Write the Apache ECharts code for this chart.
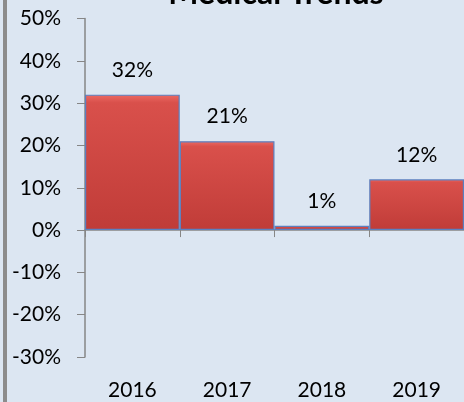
<!DOCTYPE html>
<html>
<head>
<meta charset="utf-8">
<script src="https://cdn.jsdelivr.net/npm/echarts@6/dist/echarts.min.js"></script>
<style>
  html, body { margin: 0; padding: 0; background: #dce6f2; }
  #chart { width: 464px; height: 402px; }
</style>
</head>
<body>
<div id="chart"></div>
<script>
// values, in percent
const years = ['2016', '2017', '2018', '2019'];
const trend = [32, 21, 1, 12];

const chart = echarts.init(document.getElementById('chart'));

const barFill = new echarts.graphic.LinearGradient(0, 0, 0, 1, [
  { offset: 0, color: '#ec6a64' },
  { offset: 0.06, color: '#d9504b' },
  { offset: 1, color: '#c03c38' },
]);

chart.setOption({
  backgroundColor: '#dce6f2',
  animation: false,
  title: {
    text: 'Medical Trends',
    left: 271,
    top: -27,
    textAlign: 'center',
    textStyle: { fontFamily: 'Lato', fontWeight: 'bold', fontSize: 32, color: '#000' },
  },
  graphic: [
    { type: 'rect', left: 3, top: 0, shape: { width: 4, height: 402 }, style: { fill: '#8c8c8c' } },
  ],
  grid: { left: 85, right: -4, top: 18.5, bottom: 45 },
  xAxis: [
    {
      type: 'category',
      data: years,
      position: 'bottom',
      axisLine: { show: false, onZero: false },
      axisTick: { show: false },
      axisLabel: { fontFamily: 'Lato', fontSize: 21, color: '#000', margin: 23 },
    },
    {
      type: 'category',
      data: years,
      position: 'top',
      axisLine: { show: true, onZero: true, lineStyle: { color: '#868686', width: 1.5 } },
      axisTick: { show: true, inside: true, length: 7, lineStyle: { color: '#868686' } },
      axisLabel: { show: false },
    },
  ],
  yAxis: {
    type: 'value',
    min: -30,
    max: 50,
    interval: 10,
    splitLine: { show: false },
    axisLine: { show: true, lineStyle: { color: '#868686', width: 1.5 } },
    axisTick: { show: true, length: 8, lineStyle: { color: '#868686' } },
    axisLabel: {
      fontFamily: 'Lato', fontSize: 21, color: '#000', margin: 24,
      formatter: v => v + '%',
    },
  },
  series: [
    {
      type: 'bar',
      xAxisIndex: 0,
      data: trend,
      barCategoryGap: 0,
      itemStyle: { color: barFill, borderColor: '#5b80c0', borderWidth: 1.2 },
      label: {
        show: true,
        position: 'top',
        distance: 14,
        fontFamily: 'Lato',
        fontSize: 21,
        color: '#000',
        formatter: p => p.value + '%',
      },
    },
  ],
});
</script>
</body>
</html>
